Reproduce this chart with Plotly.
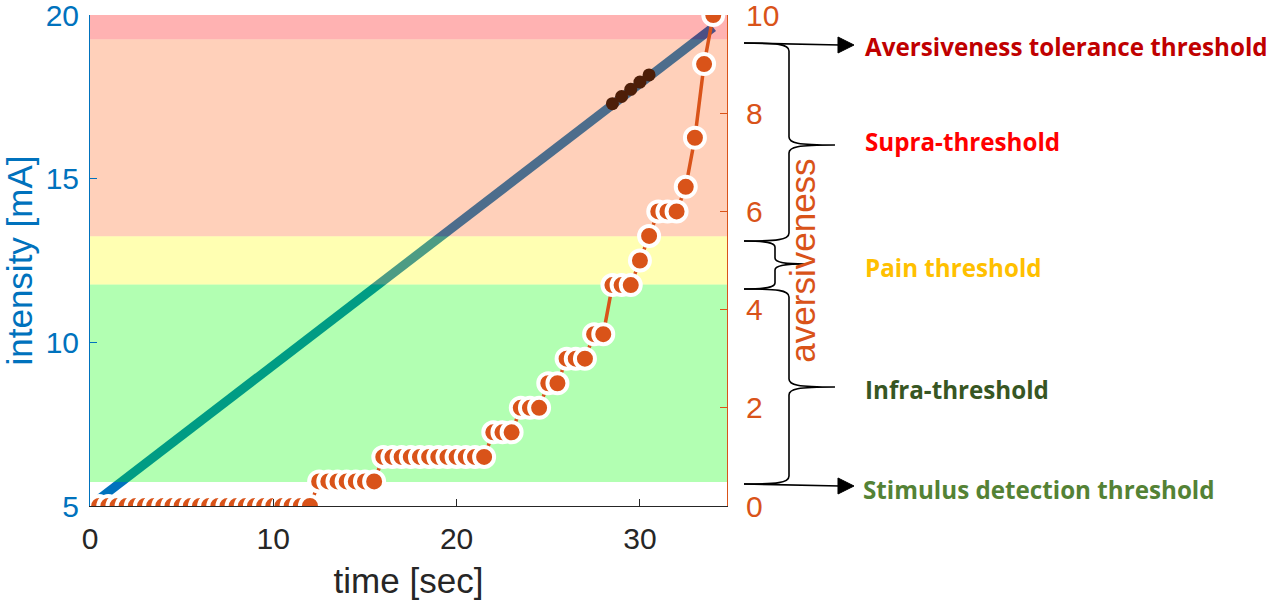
import numpy as np
import plotly.graph_objects as go

# ---------------- data ----------------
time_sec = [0, 0.5, 1, 1.5, 2, 2.5, 3, 3.5, 4, 4.5, 5, 5.5, 6, 6.5, 7, 7.5, 8, 8.5,
            9, 9.5, 10, 10.5, 11, 11.5, 12, 12.5, 13, 13.5, 14, 14.5, 15, 15.5,
            16, 16.5, 17, 17.5, 18, 18.5, 19, 19.5, 20, 20.5, 21, 21.5, 22, 22.5,
            23, 23.5, 24, 24.5, 25, 25.5, 26, 26.5, 27, 27.5, 28, 28.5, 29, 29.5,
            30, 30.5, 31, 31.5, 32, 32.5, 33, 33.5, 34]
aversiveness = [0, 0, 0, 0, 0, 0, 0, 0, 0, 0, 0, 0, 0, 0, 0, 0, 0, 0, 0, 0, 0, 0, 0, 0, 0,
                0.5, 0.5, 0.5, 0.5, 0.5, 0.5, 0.5,
                1, 1, 1, 1, 1, 1, 1, 1, 1, 1, 1, 1,
                1.5, 1.5, 1.5, 2, 2, 2, 2.5, 2.5, 3, 3, 3, 3.5, 3.5,
                4.5, 4.5, 4.5, 5, 5.5, 6, 6, 6, 6.5, 7.5, 9, 10]

ramp_time = [0, 34]
ramp_intensity = [5.0, 19.62]

pain_time = [28.5, 29.0, 29.5, 30.0, 30.5]
pain_intensity = [17.29, 17.51, 17.73, 17.95, 18.17]

band_low = [5.73, 11.77, 13.24, 19.26]
band_high = [11.77, 13.24, 19.26, 20.0]
band_fill = ["rgba(0,255,0,0.3)", "rgba(255,255,0,0.3)",
             "rgba(255,98,25,0.3)", "rgba(255,0,0,0.3)"]

x_ticks = [0, 10, 20, 30]
y_ticks = [5, 10, 15, 20]
y2_ticks = [0, 2, 4, 6, 8, 10]

labels = ["Aversiveness tolerance threshold", "Supra-threshold", "Pain threshold",
          "Infra-threshold", "Stimulus detection threshold"]
label_colors = ["#C00000", "#FF0000", "#FFC000", "#375623", "#548235"]

# ---------------- layout geometry ----------------
W, H = 1272, 602
L, R, T, B = 90, 727, 15, 506
XMAX = 34.75
BLUE = "#0072BD"
ORANGE = "#D95319"


def px(x):
    return (x - L) / (R - L)


def py(y):
    return (B - y) / (B - T)


fig = go.Figure()

# intensity ramp (left axis)
fig.add_trace(go.Scatter(x=ramp_time, y=ramp_intensity, mode="lines",
                         line=dict(color=BLUE, width=9), hoverinfo="skip",
                         showlegend=False))
fig.add_trace(go.Scatter(x=pain_time, y=pain_intensity, mode="markers",
                         marker=dict(color="black", size=13), showlegend=False))

# translucent threshold bands drawn over the ramp
for lo, hi, col in zip(band_low, band_high, band_fill):
    fig.add_trace(go.Scatter(x=[0, XMAX, XMAX, 0, 0], y=[lo, lo, hi, hi, lo],
                             mode="lines", fill="toself", fillcolor=col,
                             line=dict(width=0), hoverinfo="skip",
                             showlegend=False))

# aversiveness ratings (right axis)
fig.add_trace(go.Scatter(x=time_sec, y=aversiveness, yaxis="y2",
                         mode="lines+markers",
                         line=dict(color=ORANGE, width=3.5),
                         marker=dict(color=ORANGE, size=20,
                                     line=dict(color="white", width=4)),
                         showlegend=False))

tickfont = dict(family="Liberation Sans, Arial, sans-serif", size=30)
titlefont = dict(family="Liberation Sans, Arial, sans-serif", size=35)

fig.update_layout(
    width=W, height=H,
    margin=dict(l=L, r=W - R, t=T, b=H - B, pad=0),
    plot_bgcolor="white", paper_bgcolor="white",
    showlegend=False,
    xaxis=dict(range=[0, XMAX], tickvals=x_ticks, ticks="inside", ticklen=7,
               tickcolor="#262626", showline=True, linecolor="#262626",
               linewidth=1, showgrid=False, zeroline=False,
               tickfont=dict(color="#262626", **tickfont), ticklabelstandoff=6,
               ticklabeloverflow="allow",
               title=dict(text="time [sec]", font=dict(color="#262626", **titlefont),
                          standoff=14),
               automargin=False),
    yaxis=dict(range=[5, 20], tickvals=y_ticks, ticks="inside", ticklen=7,
               tickcolor=BLUE, showline=True, linecolor=BLUE, linewidth=1,
               showgrid=False, zeroline=False,
               tickfont=dict(color=BLUE, **tickfont), ticklabelstandoff=4,
               ticklabeloverflow="allow",
               title=dict(text="intensity [mA]", font=dict(color=BLUE, **titlefont),
                          standoff=10),
               automargin=False),
    yaxis2=dict(range=[0, 10], tickvals=y2_ticks, overlaying="y", side="right",
                anchor="x", ticks="inside", ticklen=7, tickcolor=ORANGE,
                showline=True, linecolor=ORANGE, linewidth=1, showgrid=False,
                zeroline=False, tickfont=dict(color=ORANGE, **tickfont),
                ticklabelstandoff=12, ticklabeloverflow="allow",
                title=dict(text="aversiveness", font=dict(color=ORANGE, **titlefont),
                           standoff=12),
                automargin=False),
)

# ---------------- braces and arrows ----------------
def P(pts):
    """Build an SVG path in paper coordinates from pixel points."""
    out = []
    for cmd, coords in pts:
        s = " ".join(f"{px(x):.5f},{py(y):.5f}" for x, y in coords)
        out.append(f"{cmd} {s}".strip())
    return " ".join(out)


def brace(x0, xv, xt, ytop, ybot, ytip, r):
    return P([
        ("M", [(x0, ytop)]),
        ("C", [(xv - 12, ytop), (xv, ytop + 1), (xv, ytop + r)]),
        ("L", [(xv, ytip - r)]),
        ("C", [(xv, ytip - 2), (xv + 8, ytip), (xt, ytip)]),
        ("C", [(xv + 8, ytip), (xv, ytip + 2), (xv, ytip + r)]),
        ("L", [(xv, ybot - r)]),
        ("C", [(xv, ybot - 1), (xv - 12, ybot), (x0, ybot)]),
    ])


line_style = dict(color="black", width=1.6)
fig.add_shape(type="path", xref="paper", yref="paper",
              path=brace(744, 789, 835, 43, 241, 145, 8), line=line_style, layer="above")
fig.add_shape(type="path", xref="paper", yref="paper",
              path=brace(744, 775, 805, 241, 289, 264, 6), line=line_style, layer="above")
fig.add_shape(type="path", xref="paper", yref="paper",
              path=brace(744, 789, 835, 289, 484, 387, 8), line=line_style, layer="above")

for y0, y1 in [(43, 45), (484, 486)]:
    fig.add_shape(type="line", xref="paper", yref="paper",
                  x0=px(744), y0=py(y0), x1=px(840), y1=py(y1),
                  line=line_style, layer="above")
    fig.add_shape(type="path", xref="paper", yref="paper",
                  path=P([("M", [(838, y1 - 8)]), ("L", [(854, y1)]),
                          ("L", [(838, y1 + 8)]), ("Z", [])]),
                  fillcolor="black", line=dict(color="black", width=1), layer="above")

label_y = [46, 141, 267, 389, 489]
label_x = [863, 863, 863, 863, 861]
for txt, col, lx, ly in zip(labels, label_colors, label_x, label_y):
    fig.add_annotation(text=f"<b>{txt}</b>", xref="paper", yref="paper",
                       x=px(lx), y=py(ly), xanchor="left", yanchor="middle",
                       showarrow=False,
                       font=dict(family="Open Sans, sans-serif", size=24.2, color=col))

fig.write_html("out.html")
